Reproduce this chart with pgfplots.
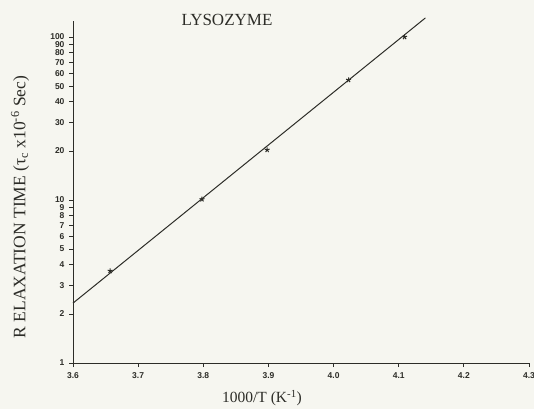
\documentclass[border=0pt]{standalone}
\usepackage{fontspec}
\setmainfont{Liberation Serif}
\newfontfamily\tickfont{Liberation Sans}
\usepackage{pgfplots}
\pgfplotsset{compat=1.18}
\definecolor{paper}{RGB}{246,246,240}
\definecolor{ink}{RGB}{45,45,40}
\begin{document}
\begin{tikzpicture}[x=1pt,y=1pt]
\fill[paper] (-73,-46) rectangle (461,363);
\begin{axis}[
  at={(0,0)}, anchor=south west,
  scale only axis, width=456pt, height=342pt,
  xmin=3.6, xmax=4.3, ymin=1, ymax=125.4,
  ymode=log, log basis y=10,
  axis x line=bottom, axis y line=left,
  axis line style={-, line width=0.9pt, ink},
  xtick={3.6,3.7,3.8,3.9,4.0,4.1,4.2,4.3},
  xticklabels={3.6,3.7,3.8,3.9,4.0,4.1,4.2,4.3},
  ytick={1,2,3,4,5,6,7,8,9,10,20,30,40,50,60,70,80,90,100},
  yticklabels={1,2,3,4,5,6,7,8,9,10,20,30,40,50,60,70,80,90,100},
  minor tick num=0, minor y tick style={draw=none},
  tick align=outside, major tick length=4pt,
  tick style={ink, line width=0.8pt},
  tick label style={font=\tickfont\bfseries\fontsize{8.5}{8.5}\selectfont, text=ink},
  xticklabel style={yshift=-2pt},
  yticklabel style={xshift=-1pt},
  clip=false,
]
\addplot[ink, line width=1pt, no marks] coordinates {(3.6,2.33) (4.141,131)};
\addplot[only marks, mark=star, mark size=2.6pt, ink, mark options={line width=1pt}]
  coordinates {(3.657,3.67) (3.798,10.1) (3.898,20.3) (4.023,54.5) (4.109,100)};
\end{axis}
\node[text=ink, font=\fontsize{17}{17}\selectfont] at (154,343) {LYSOZYME};
\node[text=ink, font=\fontsize{15.5}{15.5}\selectfont] at (189,-35) {1000/T (K\textsuperscript{-1})};
\node[text=ink, rotate=90, font=\fontsize{17.5}{17.5}\selectfont] at (-53,156) {R ELAXATION TIME (τ\textsubscript{c} x10\textsuperscript{-6} Sec)};
\pgfresetboundingbox
\path[use as bounding box] (-73,-46) rectangle (461,363);
\end{tikzpicture}
\end{document}
